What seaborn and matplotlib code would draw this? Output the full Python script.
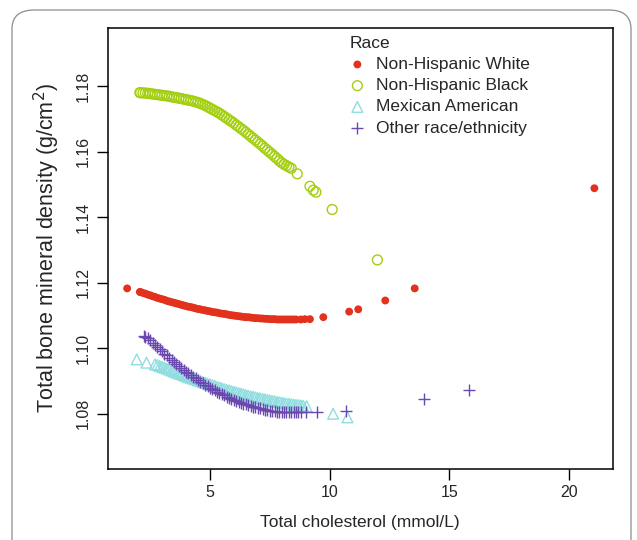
import matplotlib
matplotlib.use("Agg")
import matplotlib.pyplot as plt
import seaborn as sns
from matplotlib.patches import FancyBboxPatch

# Non-Hispanic White (filled dots)
white_x = [1.54, 2.07, 2.1, 2.2, 2.3, 2.4, 2.5, 2.6, 2.7, 2.8, 2.9, 3.0, 3.1, 3.2, 3.3, 3.4,
           3.5, 3.6, 3.7, 3.8, 3.9, 4.0, 4.1, 4.2, 4.3, 4.4, 4.5, 4.6, 4.7, 4.8, 4.9, 5.0,
           5.1, 5.2, 5.3, 5.4, 5.5, 5.6, 5.7, 5.8, 5.9, 6.0, 6.1, 6.2, 6.3, 6.4, 6.5, 6.6,
           6.7, 6.8, 6.9, 7.0, 7.1, 7.2, 7.3, 7.4, 7.5, 7.6, 7.7, 7.8, 7.9, 8.0, 8.1, 8.2,
           8.3, 8.4, 8.5, 8.6, 8.8, 8.97, 9.18, 9.74, 10.82, 11.2, 12.33, 13.56, 21.07]
white_y = [1.1183, 1.1172, 1.1172, 1.1169, 1.1167, 1.1164, 1.1162, 1.1159, 1.1157, 1.1154,
           1.1152, 1.1150, 1.1148, 1.1145, 1.1143, 1.1141, 1.1139, 1.1137, 1.1135, 1.1133,
           1.1131, 1.1129, 1.1127, 1.1126, 1.1124, 1.1122, 1.1120, 1.1119, 1.1117, 1.1116,
           1.1114, 1.1113, 1.1111, 1.1110, 1.1109, 1.1107, 1.1106, 1.1105, 1.1104, 1.1102,
           1.1101, 1.1100, 1.1099, 1.1098, 1.1097, 1.1096, 1.1095, 1.1095, 1.1094, 1.1093,
           1.1092, 1.1092, 1.1091, 1.1091, 1.1090, 1.1090, 1.1089, 1.1089, 1.1089, 1.1088,
           1.1088, 1.1088, 1.1088, 1.1088, 1.1088, 1.1088, 1.1088, 1.1088, 1.1088, 1.1089,
           1.1089, 1.1095, 1.1112, 1.1119, 1.1146, 1.1183, 1.1489]

# Non-Hispanic Black (open circles)
black_x = [2.07, 2.1, 2.2, 2.3, 2.4, 2.5, 2.6, 2.7, 2.8, 2.9, 3.0, 3.1, 3.2, 3.3, 3.4, 3.5,
           3.6, 3.7, 3.8, 3.9, 4.0, 4.1, 4.2, 4.3, 4.4, 4.5, 4.6, 4.7, 4.8, 4.9, 5.0, 5.1,
           5.2, 5.3, 5.4, 5.5, 5.6, 5.7, 5.8, 5.9, 6.0, 6.1, 6.2, 6.3, 6.4, 6.5, 6.6, 6.7,
           6.8, 6.9, 7.0, 7.1, 7.2, 7.3, 7.4, 7.5, 7.6, 7.7, 7.8, 7.9, 8.0, 8.1, 8.2, 8.3,
           8.4, 8.65, 9.18, 9.32, 9.43, 10.11, 12.0]
black_y = [1.1781, 1.1781, 1.1780, 1.1780, 1.1779, 1.1778, 1.1777, 1.1776, 1.1775, 1.1774,
           1.1773, 1.1772, 1.1771, 1.1770, 1.1768, 1.1767, 1.1766, 1.1764, 1.1763, 1.1761,
           1.1760, 1.1758, 1.1757, 1.1755, 1.1753, 1.1751, 1.1748, 1.1745, 1.1742, 1.1738,
           1.1734, 1.1730, 1.1726, 1.1722, 1.1718, 1.1713, 1.1708, 1.1703, 1.1698, 1.1693,
           1.1688, 1.1682, 1.1677, 1.1671, 1.1666, 1.1660, 1.1654, 1.1648, 1.1642, 1.1636,
           1.1630, 1.1624, 1.1618, 1.1611, 1.1605, 1.1599, 1.1593, 1.1586, 1.1580, 1.1573,
           1.1567, 1.1562, 1.1558, 1.1554, 1.1550, 1.1533, 1.1495, 1.1483, 1.1477, 1.1424,
           1.1270]

# Mexican American (open triangles)
mexican_x = [1.94, 2.35, 2.7, 2.8, 2.9, 3.0, 3.1, 3.2, 3.3, 3.4, 3.5, 3.6, 3.7, 3.8, 3.9,
             4.0, 4.1, 4.2, 4.3, 4.4, 4.5, 4.6, 4.7, 4.8, 4.9, 5.0, 5.1, 5.2, 5.3, 5.4,
             5.5, 5.6, 5.7, 5.8, 5.9, 6.0, 6.1, 6.2, 6.3, 6.4, 6.5, 6.6, 6.7, 6.8, 6.9,
             7.0, 7.1, 7.2, 7.3, 7.4, 7.5, 7.6, 7.7, 7.8, 7.9, 8.0, 8.1, 8.2, 8.3, 8.4,
             8.5, 8.6, 8.7, 8.8, 8.9, 9.04, 10.15, 10.75]
mexican_y = [1.0966, 1.0956, 1.0951, 1.0949, 1.0946, 1.0943, 1.0941, 1.0938, 1.0935, 1.0932,
             1.0929, 1.0926, 1.0923, 1.0921, 1.0918, 1.0915, 1.0912, 1.0910, 1.0907, 1.0905,
             1.0902, 1.0900, 1.0897, 1.0895, 1.0892, 1.0890, 1.0887, 1.0885, 1.0882, 1.0880,
             1.0878, 1.0875, 1.0873, 1.0871, 1.0869, 1.0867, 1.0865, 1.0863, 1.0861, 1.0859,
             1.0857, 1.0855, 1.0853, 1.0852, 1.0850, 1.0848, 1.0847, 1.0845, 1.0844, 1.0842,
             1.0841, 1.0839, 1.0838, 1.0836, 1.0835, 1.0834, 1.0832, 1.0831, 1.0830, 1.0829,
             1.0828, 1.0827, 1.0826, 1.0825, 1.0824, 1.0823, 1.0800, 1.0789]

# Other race/ethnicity (plus signs)
other_x = [2.25, 2.3, 2.4, 2.5, 2.6, 2.7, 2.8, 2.9, 3.0, 3.1, 3.2, 3.3, 3.4, 3.5, 3.6, 3.7,
           3.8, 3.9, 4.0, 4.1, 4.2, 4.3, 4.4, 4.5, 4.6, 4.7, 4.8, 4.9, 5.0, 5.1, 5.2, 5.3,
           5.4, 5.5, 5.6, 5.7, 5.8, 5.9, 6.0, 6.1, 6.2, 6.3, 6.4, 6.5, 6.6, 6.7, 6.8, 6.9,
           7.0, 7.1, 7.2, 7.3, 7.4, 7.5, 7.6, 7.7, 7.8, 7.9, 8.0, 8.1, 8.2, 8.3, 8.4, 8.5,
           8.6, 8.7, 8.8, 9.0, 9.46, 10.67, 13.96, 15.85]
other_y = [1.1037, 1.1035, 1.1030, 1.1024, 1.1017, 1.1011, 1.1004, 1.0997, 1.0991, 1.0984,
           1.0978, 1.0971, 1.0965, 1.0959, 1.0953, 1.0947, 1.0941, 1.0935, 1.0929, 1.0924,
           1.0918, 1.0913, 1.0908, 1.0903, 1.0898, 1.0893, 1.0889, 1.0884, 1.0880, 1.0876,
           1.0871, 1.0867, 1.0863, 1.0859, 1.0856, 1.0852, 1.0849, 1.0846, 1.0843, 1.0840,
           1.0837, 1.0834, 1.0831, 1.0829, 1.0826, 1.0824, 1.0822, 1.0820, 1.0818, 1.0816,
           1.0814, 1.0812, 1.0811, 1.0809, 1.0808, 1.0807, 1.0806, 1.0806, 1.0805, 1.0805,
           1.0805, 1.0805, 1.0805, 1.0805, 1.0805, 1.0805, 1.0805, 1.0805, 1.0804, 1.0809,
           1.0844, 1.0873]

races = ["Non-Hispanic White", "Non-Hispanic Black", "Mexican American", "Other race/ethnicity"]
colors = ["#E2311D", "#A3CF0E", "#8FDDE0", "#6A48B0"]

sns.set_style("white")
plt.rcParams["font.family"] = ["Liberation Sans", "DejaVu Sans"]

fig = plt.figure(figsize=(6.37, 5.4), dpi=100)
ax = fig.add_axes([0.169, 0.132, 0.793, 0.817])

# rounded panel frame behind the plot
frame = FancyBboxPatch((12 / 637, -0.2), (631 - 12) / 637, 1.2 - 10 / 540,
                       boxstyle="round,pad=0,rounding_size=0.035",
                       transform=fig.transFigure, fill=False,
                       edgecolor="#8c8c8c", linewidth=0.9, zorder=0)
fig.patches.append(frame)

sns.scatterplot(x=white_x, y=white_y, ax=ax, marker="o", s=32, color=colors[0],
                edgecolor="none", label=races[0])
sns.scatterplot(x=black_x, y=black_y, ax=ax, marker="o", s=50, facecolors="none",
                edgecolor=colors[1], linewidth=1.0, label=races[1])
sns.scatterplot(x=mexican_x, y=mexican_y, ax=ax, marker="^", s=60, facecolors="none",
                edgecolor=colors[2], linewidth=1.0, label=races[2])
sns.scatterplot(x=other_x, y=other_y, ax=ax, marker="+", s=80, color=colors[3],
                linewidth=1.0, label=races[3])

ax.set_xlim(0.725, 21.84)
ax.set_ylim(1.0632, 1.198)
ax.set_xticks([5, 10, 15, 20])
ax.set_yticks([1.08, 1.10, 1.12, 1.14, 1.16, 1.18])
ax.set_yticklabels(["1.08", "1.10", "1.12", "1.14", "1.16", "1.18"])

for sp in ax.spines.values():
    sp.set_color("black")
    sp.set_linewidth(1.1)
ax.tick_params(axis="both", direction="out", length=8, width=1.0, color="black",
               labelsize=11.5, pad=4, left=True, bottom=True)
ax.tick_params(axis="y", labelrotation=90)
for lab in ax.get_yticklabels():
    lab.set_va("center")

ax.set_xlabel("Total cholesterol (mmol/L)", fontsize=12.5)
ax.set_ylabel("Total bone mineral density (g/cm$^2$)", fontsize=15.5)
ax.xaxis.set_label_coords(0.5, -0.123)
ax.xaxis.label.set_va("center")
ax.yaxis.set_label_coords(-0.12, 0.5)
ax.yaxis.label.set_va("center")

leg = ax.legend(title="Race", loc="upper left", bbox_to_anchor=(0.4617, 1.001),
                frameon=False, fontsize=12.5, title_fontsize=12.5, borderpad=0,
                handlelength=0.9, handletextpad=0.6, labelspacing=0.35,
                alignment="left", markerscale=1.0)

fig.savefig("out.png", dpi=100)
